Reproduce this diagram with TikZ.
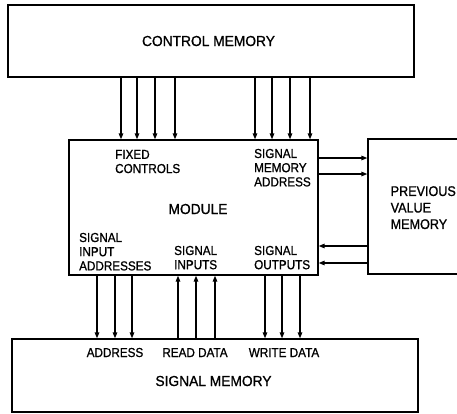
\documentclass[tikz,border=0pt]{standalone}
\usepackage{fontspec}
\setmainfont{Liberation Sans}
\newfontfamily\smallf[FakeStretch=0.9,FakeBold=1]{Liberation Sans}
\newfontfamily\bigf[FakeStretch=0.95,FakeBold=1]{Liberation Sans}
\newfontfamily\pvmf[FakeStretch=0.9,FakeBold=1]{Liberation Sans}
\usetikzlibrary{arrows.meta}
\begin{document}
\begin{tikzpicture}[x=1pt,y=-1pt,
  box/.style={draw,line width=1.3pt,inner sep=0pt,anchor=center},
  arr/.style={line width=1.3pt,-{Triangle[length=6pt,width=4.5pt]}},
  big/.style={inner sep=0pt,font={\bigf\fontsize{14.5}{16.5}\selectfont}},
  small/.style={inner sep=0pt,align=left,anchor=north west,font={\smallf\fontsize{13}{14.2}\selectfont}},
  smallc/.style={inner sep=0pt,anchor=base,font={\smallf\fontsize{13}{14.2}\selectfont}}]
\clip (0,0) rectangle (457,413);
% boxes
\node[box,minimum width=406pt,minimum height=72pt] (cm) at (211,41) {};
\node[box,minimum width=249pt,minimum height=135pt] (mod) at (193.5,207.5) {};
\node[box,minimum width=102pt,minimum height=135pt] (pvm) at (419,206.5) {};
\node[box,minimum width=406pt,minimum height=73pt] (sm) at (215,375.5) {};
% box titles
\node[big,anchor=base] (cmt) at (208.5,46) {CONTROL MEMORY};
\node[big,anchor=base] (modt) at (198,214) {MODULE};
\node[big,anchor=base] (smt) at (213.5,386) {SIGNAL MEMORY};
\node[inner sep=0pt,align=left,anchor=north west,font={\pvmf\fontsize{14}{16.5}\selectfont}] (pvmt) at (390.5,186) {PREVIOUS\\VALUE\\MEMORY};
% port labels
\node[small] (fc) at (115,149.7) {FIXED\\CONTROLS};
\node[small] (sma) at (254,148.7) {SIGNAL\\MEMORY\\ADDRESS};
\node[small] (sia) at (79,232.7) {SIGNAL\\INPUT\\ADDRESSES};
\node[small] (si) at (174,245.7) {SIGNAL\\INPUTS};
\node[small] (so) at (254,245.7) {SIGNAL\\OUTPUTS};
\node[smallc] (adr) at (115,357) {ADDRESS};
\node[smallc] (rd) at (195,357) {READ DATA};
\node[smallc] (wd) at (284,357) {WRITE DATA};
% control memory to module
\foreach \x in {121,137,155,175,255,272,290,310}
  \draw[arr] (cm.south -| \x,0) -- (mod.north -| \x,0);
% module to previous value memory
\foreach \y in {158,174}
  \draw[arr] (mod.east |- 0,\y) -- (pvm.west |- 0,\y);
\foreach \y in {246,263}
  \draw[arr] (pvm.west |- 0,\y) -- (mod.east |- 0,\y);
% module to signal memory
\foreach \x in {97,115,132,265,282,300}
  \draw[arr] (mod.south -| \x,0) -- (sm.north -| \x,0);
\foreach \x in {178,196,215}
  \draw[arr] (sm.north -| \x,0) -- (mod.south -| \x,0);
\end{tikzpicture}
\end{document}
